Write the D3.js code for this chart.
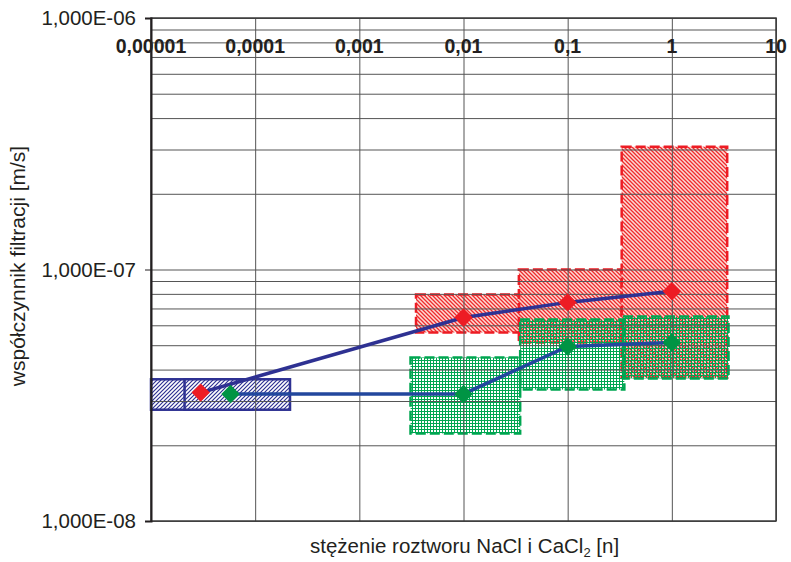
<!DOCTYPE html>
<html>
<head>
<meta charset="utf-8">
<script src="https://cdn.jsdelivr.net/npm/d3@7"></script>
<style>
  body { margin: 0; background: #fff; }
  svg text { font-family: Arial, "Liberation Sans", sans-serif; fill: #231f20; }
</style>
</head>
<body>
<svg id="chart"></svg>
<script>
// Axis ticks (log scales)
const xTickValues = [1e-5, 1e-4, 1e-3, 1e-2, 1e-1, 1, 10];
const xTickLabels = ['0,00001', '0,0001', '0,001', '0,01', '0,1', '1', '10'];
const yTickValues = [1e-8, 1e-7, 1e-6];
const yTickLabels = ['1,000E-08', '1,000E-07', '1,000E-06'];

// Measured points: concentration [n] and filtration coefficient [m/s]
const redConc = [3e-5, 0.01, 0.1, 1];
const redK = [3.24e-8, 6.44e-8, 7.4e-8, 8.2e-8];
const greenConc = [5.8e-5, 0.01, 0.1, 1];
const greenK = [3.2e-8, 3.2e-8, 4.94e-8, 5.13e-8];

// Scatter ranges: [conc min, conc max, k min, k max]
const blueRanges = [
  [1.0e-5, 9.3e-5, 2.77e-8, 3.66e-8],
  [2.1e-5, 2.16e-4, 2.77e-8, 3.66e-8]
];
const redRanges = [
  [0.0035, 0.035, 5.62e-8, 7.96e-8],
  [0.034, 0.33, 5.13e-8, 1.0e-7],
  [0.33, 3.4, 3.72e-8, 3.08e-7]
];
const greenRanges = [
  [0.0031, 0.035, 2.23e-8, 4.47e-8],
  [0.035, 0.35, 3.33e-8, 6.33e-8],
  [0.34, 3.5, 3.69e-8, 6.5e-8]
];

const containerWidth = 791;
const containerHeight = 562;
const margin = { top: 18, right: 15, bottom: 41, left: 151 };
const width = containerWidth - margin.left - margin.right;
const height = containerHeight - margin.top - margin.bottom;

const svg = d3.select('#chart')
  .attr('width', containerWidth)
  .attr('height', containerHeight);

// Fill patterns
const defs = svg.append('defs');

const blueHatch = defs.append('pattern')
  .attr('id', 'blueHatch')
  .attr('patternUnits', 'userSpaceOnUse')
  .attr('width', 4).attr('height', 4);
blueHatch.append('rect').attr('width', 4).attr('height', 4).attr('fill', '#ffffff');
blueHatch.append('path')
  .attr('d', 'M-1,1 l2,-2 M0,4 l4,-4 M3,5 l2,-2')
  .attr('stroke', '#2e3192').attr('stroke-width', 1.2);

const redHatch = defs.append('pattern')
  .attr('id', 'redHatch')
  .attr('patternUnits', 'userSpaceOnUse')
  .attr('width', 4).attr('height', 4);
redHatch.append('rect').attr('width', 4).attr('height', 4).attr('fill', '#fbd2ca').attr('opacity', 0.8);
redHatch.append('path')
  .attr('d', 'M-1,3 l2,2 M0,0 l4,4 M3,-1 l2,2')
  .attr('stroke', '#ef2b2d').attr('stroke-width', 1.3);

const greenGrid = defs.append('pattern')
  .attr('id', 'greenGrid')
  .attr('patternUnits', 'userSpaceOnUse')
  .attr('width', 3).attr('height', 3);
greenGrid.append('rect').attr('width', 3).attr('height', 1).attr('fill', '#00a651');
greenGrid.append('rect').attr('width', 1).attr('height', 3).attr('fill', '#00a651');

// Scales
const xScale = d3.scaleLog()
  .domain([1e-5, 10])
  .range([0, width]);

const yScale = d3.scaleLog()
  .domain([1e-8, 1e-6])
  .range([height, 0]);

const chart = svg.append('g')
  .attr('transform', `translate(${margin.left},${margin.top})`);

// Range boxes
function drawBoxes(ranges, cls, fill, stroke, dash, strokeWidth) {
  chart.selectAll('.' + cls)
    .data(ranges)
    .join('rect')
    .attr('class', cls)
    .attr('x', d => xScale(d[0]))
    .attr('width', d => xScale(d[1]) - xScale(d[0]))
    .attr('y', d => yScale(d[3]))
    .attr('height', d => yScale(d[2]) - yScale(d[3]))
    .attr('fill', fill)
    .attr('stroke', stroke)
    .attr('stroke-width', strokeWidth)
    .attr('stroke-dasharray', dash);
}

drawBoxes(blueRanges, 'box-blue', 'url(#blueHatch)', '#2e3192', null, 2.5);
drawBoxes(redRanges, 'box-red', 'url(#redHatch)', '#ed1c24', '10,4', 2.5);
drawBoxes(greenRanges, 'box-green', 'url(#greenGrid)', '#00a651', '10,4', 2.5);

// Gridlines
chart.append('g')
  .attr('class', 'grid y-grid')
  .call(d3.axisLeft(yScale).tickSize(-width).tickFormat(''))
  .call(g => g.select('.domain').remove())
  .call(g => g.selectAll('line').attr('stroke', '#555').attr('stroke-width', 1));

chart.append('g')
  .attr('class', 'grid x-grid')
  .attr('transform', `translate(0,${height})`)
  .call(d3.axisBottom(xScale).tickValues(xTickValues).tickSize(-height).tickFormat(''))
  .call(g => g.select('.domain').remove())
  .call(g => g.selectAll('line').attr('stroke', '#555').attr('stroke-width', 1));

// Frame
chart.append('rect')
  .attr('width', width)
  .attr('height', height)
  .attr('fill', 'none')
  .attr('stroke', '#3a3a3a')
  .attr('stroke-width', 1.5);

// Y axis with major ticks
const yAxisG = chart.append('g')
  .attr('class', 'axis y-axis')
  .call(d3.axisLeft(yScale)
    .tickValues(yTickValues)
    .tickSize(6)
    .tickPadding(9)
    .tickFormat((d, i) => yTickLabels[i]));
yAxisG.select('.domain').attr('stroke', '#231f20').attr('stroke-width', 2);
yAxisG.selectAll('line').attr('stroke', '#231f20');
yAxisG.selectAll('text')
  .attr('font-size', 20.5)
  .attr('font-family', 'Arial, "Liberation Sans", sans-serif')
  .attr('fill', '#231f20');

// X tick labels, bold, inside the top of the plot
chart.selectAll('.x-label')
  .data(xTickValues)
  .join('text')
  .attr('class', 'x-label')
  .attr('x', d => xScale(d))
  .attr('y', 35)
  .attr('text-anchor', 'middle')
  .attr('font-size', 19.5)
  .attr('font-weight', 'bold')
  .text((d, i) => xTickLabels[i]);

// Connecting lines
const line = d3.line()
  .x(d => xScale(d[0]))
  .y(d => yScale(d[1]));

chart.append('path')
  .datum(redConc.map((c, i) => [c, redK[i]]))
  .attr('d', line)
  .attr('fill', 'none')
  .attr('stroke', '#2e3192')
  .attr('stroke-width', 3.5);

chart.append('path')
  .datum(greenConc.map((c, i) => [c, greenK[i]]))
  .attr('d', line)
  .attr('fill', 'none')
  .attr('stroke', '#22479d')
  .attr('stroke-width', 3.5);

// Diamonds
const diamond = d3.symbol().type(d3.symbolSquare).size(170);

chart.selectAll('.pt-red')
  .data(redConc.map((c, i) => [c, redK[i]]))
  .join('path')
  .attr('class', 'pt-red')
  .attr('d', diamond)
  .attr('transform', d => `translate(${xScale(d[0])},${yScale(d[1])}) rotate(45)`)
  .attr('fill', '#ed1c24');

chart.selectAll('.pt-green')
  .data(greenConc.map((c, i) => [c, greenK[i]]))
  .join('path')
  .attr('class', 'pt-green')
  .attr('d', diamond)
  .attr('transform', d => `translate(${xScale(d[0])},${yScale(d[1])}) rotate(45)`)
  .attr('fill', '#009444');

// Axis titles
const xTitle = svg.append('text')
  .attr('x', 310)
  .attr('y', 553)
  .attr('font-size', 20.5);
xTitle.append('tspan').text('stężenie roztworu NaCl i CaCl');
xTitle.append('tspan').attr('font-size', 13).attr('dy', 4).text('2');
xTitle.append('tspan').attr('dy', -4).text(' [n]');

svg.append('text')
  .attr('transform', `translate(25,266) rotate(-90)`)
  .attr('text-anchor', 'middle')
  .attr('font-size', 21)
  .text('współczynnik filtracji [m/s]');
</script>
</body>
</html>
